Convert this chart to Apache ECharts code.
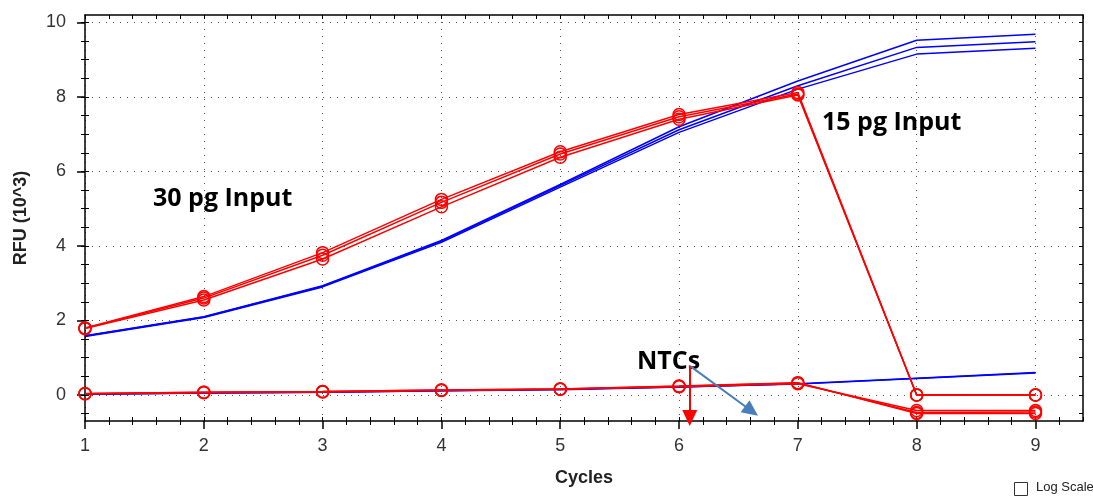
<!DOCTYPE html>
<html><head><meta charset="utf-8">
<script src="https://cdn.jsdelivr.net/npm/echarts@6/dist/echarts.min.js"></script>
<style>html,body{margin:0;padding:0;background:#fff}#c{width:1093px;height:496px}</style>
</head><body><div id="c"></div>
<script>
// ---- data ----
const cycles = [1, 2, 3, 4, 5, 6, 7, 8, 9];
const blue1 = [1.57, 2.08, 2.90, 4.10, 5.58, 7.05, 8.21, 9.15, 9.31];
const blue2 = [1.58, 2.09, 2.92, 4.13, 5.62, 7.12, 8.30, 9.33, 9.48];
const blue3 = [1.59, 2.10, 2.93, 4.15, 5.65, 7.20, 8.43, 9.52, 9.68];
const blueNtc1 = [0.02, 0.05, 0.07, 0.11, 0.15, 0.21, 0.30, 0.45, 0.60];
const blueNtc2 = [0.02, 0.05, 0.07, 0.11, 0.14, 0.21, 0.29, 0.44, 0.59];
const red1 = [1.78, 2.55, 3.65, 5.05, 6.38, 7.40, 8.05, 0.00, 0.00];
const red2 = [1.79, 2.60, 3.75, 5.17, 6.47, 7.47, 8.08, 0.00, 0.00];
const red3 = [1.80, 2.64, 3.82, 5.25, 6.53, 7.53, 8.12, 0.00, 0.00];
const redNtc1 = [0.03, 0.06, 0.08, 0.12, 0.15, 0.22, 0.30, -0.42, -0.42];
const redNtc2 = [0.03, 0.07, 0.09, 0.13, 0.16, 0.23, 0.32, -0.47, -0.46];
const redNtc3 = [0.04, 0.07, 0.09, 0.13, 0.16, 0.24, 0.33, -0.50, -0.50];
const xTicks = [1, 2, 3, 4, 5, 6, 7, 8, 9];
const yMajor = [0, 2, 4, 6, 8, 10];
const yMinor = [-0.5, 0, 0.5, 1, 1.5, 2, 2.5, 3, 3.5, 4, 4.5, 5, 5.5, 6, 6.5, 7, 7.5, 8, 8.5, 9, 9.5, 10];
// annotation arrows (data coordinates): [startX, startY, endX, endY]
const redArrow = [6.09, 0.78, 6.09, -0.62];
const blueArrow = [6.10, 0.76, 6.61, -0.43];

const chart = echarts.init(document.getElementById('c'));
const xy = arr => arr.map((v, i) => [cycles[i], v]);

const RED = '#ff0000', BLUE = '#0000ff', STEEL = '#4a7ebb';
const blueLine = (d, extra) => Object.assign({
  type: 'line', data: xy(d), symbol: 'none', silent: true,
  lineStyle: { color: BLUE, width: 1.5 }, itemStyle: { color: BLUE }, z: 2
}, extra || {});
const redLine = d => ({
  type: 'line', data: xy(d), symbol: 'circle', symbolSize: 12, silent: true,
  lineStyle: { color: RED, width: 1.5 },
  itemStyle: { color: 'rgba(255,255,255,0)', borderColor: RED, borderWidth: 1.5 }, z: 3
});
const arrow = (a, color) => [
  { coord: [a[0], a[1]], symbol: 'none', lineStyle: { color: color, width: 2, type: 'solid' }, itemStyle: { color: color } },
  { coord: [a[2], a[3]], symbol: 'triangle', symbolSize: [15, 16], itemStyle: { color: color } }
];

const axisFont = { fontFamily: 'Liberation Sans', fontSize: 18, color: '#333' };
const black = { color: '#000', width: 1.5 };

const option = {
  animation: false,
  backgroundColor: '#fff',
  grid: { left: 85, right: 10, top: 15, bottom: 75 },
  xAxis: [
    {
      type: 'value', min: 1, max: 9.4, interval: 1, position: 'bottom',
      name: 'Cycles', nameLocation: 'middle', nameGap: 48,
      nameTextStyle: { fontFamily: 'Liberation Sans', fontWeight: 'bold', fontSize: 18, color: '#222' },
      axisLine: { show: true, onZero: false, lineStyle: black },
      axisTick: { show: true, length: 8, customValues: xTicks, lineStyle: black },
      minorTick: { show: true, splitNumber: 5, length: 4, lineStyle: { color: '#000', width: 1 } },
      axisLabel: Object.assign({ customValues: xTicks, margin: 16 }, axisFont),
      splitLine: { show: true, lineStyle: { color: '#555', width: 1, type: [1, 6] } }
    },
    {
      type: 'value', min: 1, max: 9.4, interval: 1, position: 'bottom',
      axisLine: { show: false, onZero: false },
      axisTick: { show: true, inside: true, length: 4, lineStyle: { color: '#000', width: 1 } },
      minorTick: { show: true, splitNumber: 5, length: 4, lineStyle: { color: '#000', width: 1 } },
      axisLabel: { show: false }, splitLine: { show: false }
    },
    {
      type: 'value', min: 1, max: 9.4, interval: 1, position: 'top',
      axisLine: { show: true, onZero: false, lineStyle: black },
      axisTick: { show: true, inside: true, length: 4, lineStyle: { color: '#000', width: 1 } },
      minorTick: { show: true, splitNumber: 5, length: 4, lineStyle: { color: '#000', width: 1 } },
      axisLabel: { show: false }, splitLine: { show: false }
    }
  ],
  yAxis: [
    {
      type: 'value', min: -0.7, max: 10.2, position: 'left',
      name: 'RFU (10^3)', nameLocation: 'middle', nameGap: 55,
      nameTextStyle: { fontFamily: 'Liberation Sans', fontWeight: 'bold', fontSize: 18, color: '#222' },
      axisLine: { show: true, onZero: false, lineStyle: black },
      axisTick: { show: true, length: 8, customValues: yMajor, lineStyle: black },
      axisLabel: Object.assign({ customValues: yMajor, margin: 19 }, axisFont),
      splitLine: { show: true, lineStyle: { color: '#555', width: 1, type: [1, 6] } }
    },
    {
      type: 'value', min: -0.7, max: 10.2, position: 'left',
      axisLine: { show: false, onZero: false },
      axisTick: { show: true, length: 4, customValues: yMinor, lineStyle: { color: '#000', width: 1 } },
      axisLabel: { show: false }, splitLine: { show: false }
    },
    {
      type: 'value', min: -0.7, max: 10.2, position: 'left',
      axisLine: { show: false, onZero: false },
      axisTick: { show: true, inside: true, length: 4, customValues: yMinor, lineStyle: { color: '#000', width: 1 } },
      axisLabel: { show: false }, splitLine: { show: false }
    },
    {
      type: 'value', min: -0.7, max: 10.2, position: 'right',
      axisLine: { show: true, onZero: false, lineStyle: black },
      axisTick: { show: true, inside: true, length: 4, customValues: yMinor, lineStyle: { color: '#000', width: 1 } },
      axisLabel: { show: false }, splitLine: { show: false }
    }
  ],
  series: [
    blueLine(blue1), blueLine(blue2), blueLine(blue3),
    blueLine(blueNtc2),
    blueLine(blueNtc1),
    redLine(redNtc1), redLine(redNtc2), redLine(redNtc3),
    redLine(red1), redLine(red2), redLine(red3),
    {
      type: 'line', data: [], silent: true, clip: false, z: 5,
      markLine: {
        silent: true, animation: false,
        label: { show: false },
        data: [arrow(redArrow, RED), arrow(blueArrow, STEEL)]
      }
    }
  ],
  graphic: [
    { type: 'text', left: 153, top: 186, silent: true,
      style: { text: '30 pg Input', font: 'bold 25px "Open Sans"', fill: '#000' } },
    { type: 'text', left: 822, top: 110, silent: true,
      style: { text: '15 pg Input', font: 'bold 25px "Open Sans"', fill: '#000' } },
    { type: 'text', left: 637, top: 349, silent: true,
      style: { text: 'NTCs', font: 'bold 25px "Open Sans"', fill: '#000' } },
    { type: 'rect', shape: { x: 1014.5, y: 482.5, width: 13, height: 13 }, silent: true,
      style: { fill: '#fff', stroke: '#333', lineWidth: 1 } },
    { type: 'text', left: 1036, top: 481, silent: true,
      style: { text: 'Log Scale', font: '13px "Liberation Sans"', fill: '#222' } }
  ]
};
chart.setOption(option);
</script>
</body></html>
